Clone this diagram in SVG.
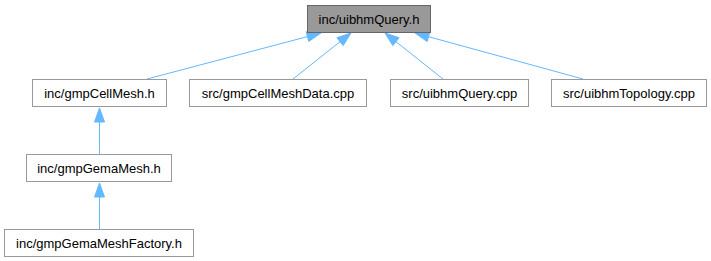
<svg xmlns="http://www.w3.org/2000/svg" width="711" height="261" viewBox="0 0 711 261">
<style>
.node rect{fill:#ffffff;stroke:#999999;stroke-width:1}
.node.hl rect{fill:#999999;stroke:#666666}
.node text{font-family:"Liberation Sans",Arial,sans-serif;font-size:13px;fill:#000000;text-anchor:middle}
.edge line{stroke:#63b8ff;stroke-width:1}
.edge polygon{fill:#63b8ff;stroke:#63b8ff;stroke-width:1}
</style>
<rect width="711" height="261" fill="#ffffff"/>
<g id="edges">
<g class="edge"><line x1="147" y1="79" x2="307.5" y2="36.6"/><polygon points="321,33 308.75,41.41 306.19,31.75"/></g>
<g class="edge"><line x1="293" y1="79" x2="340" y2="41.7"/><polygon points="351,33 343.14,45.62 336.92,37.78"/></g>
<g class="edge"><line x1="443" y1="79" x2="396" y2="41.7"/><polygon points="385,33 399.08,37.78 392.86,45.62"/></g>
<g class="edge"><line x1="583" y1="79" x2="428.5" y2="36.7"/><polygon points="415,33 429.82,31.88 427.18,41.52"/></g>
<g class="edge"><line x1="99.5" y1="154" x2="99.5" y2="122"/><polygon points="99.5,108 94.5,122 104.5,122"/></g>
<g class="edge"><line x1="99.5" y1="229" x2="99.5" y2="197"/><polygon points="99.5,183 94.5,197 104.5,197"/></g>
</g>
<g id="node1" class="node hl"><rect x="307.5" y="5.5" width="123" height="27"/><text x="369" y="23.5">inc/uibhmQuery.h</text></g>
<g id="node2" class="node"><rect x="32.5" y="79.5" width="134" height="27"/><text x="99.5" y="97.5">inc/gmpCellMesh.h</text></g>
<g id="node3" class="node"><rect x="189.5" y="79.5" width="177" height="27"/><text x="278" y="97.5">src/gmpCellMeshData.cpp</text></g>
<g id="node4" class="node"><rect x="390.5" y="79.5" width="138" height="27"/><text x="459.5" y="97.5">src/uibhmQuery.cpp</text></g>
<g id="node5" class="node"><rect x="551.5" y="79.5" width="155" height="27"/><text x="629" y="97.5">src/uibhmTopology.cpp</text></g>
<g id="node6" class="node"><rect x="26.5" y="154.5" width="145" height="27"/><text x="99" y="172.5">inc/gmpGemaMesh.h</text></g>
<g id="node7" class="node"><rect x="4.5" y="229.5" width="189" height="27"/><text x="99" y="247.5">inc/gmpGemaMeshFactory.h</text></g>
</svg>
